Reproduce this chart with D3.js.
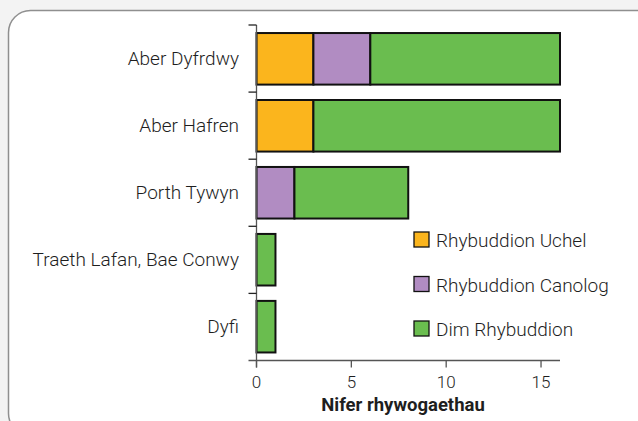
<!DOCTYPE html>
<html>
<head>
<meta charset="utf-8">
<script src="https://cdn.jsdelivr.net/npm/d3@7"></script>
<style>
body { margin: 0; background: #f3f3f3; }
svg { display: block; }
text { font-family: Roboto, "Liberation Sans", sans-serif; fill: #1e1e1e; }
</style>
</head>
<body>
<svg id="chart" width="638" height="421"></svg>
<script>
// data
var sites = ["Aber Dyfrdwy", "Aber Hafren", "Porth Tywyn", "Traeth Lafan, Bae Conwy", "Dyfi"];
var seriesNames = ["Rhybuddion Uchel", "Rhybuddion Canolog", "Dim Rhybuddion"];
var seriesColors = ["#fbb51d", "#b18cc2", "#6abd4f"];
var uchel   = [3, 3, 0, 0, 0];
var canolog = [3, 0, 2, 0, 0];
var dim     = [10, 13, 6, 1, 1];
var xTicks = [0, 5, 10, 15];
var xTitle = "Nifer rhywogaethau";

var svg = d3.select("#chart");

// frame
svg.append("rect")
	.attr("x", 8.5).attr("y", 10.5)
	.attr("width", 650).attr("height", 425)
	.attr("rx", 22)
	.attr("fill", "#fff")
	.attr("stroke", "#8f8f8f")
	.attr("stroke-width", 1.5);

var plotLeft = 256.5, plotRight = 560, plotTop = 25, plotBottom = 360.5;

var x = d3.scaleLinear().domain([0, 16]).range([plotLeft, plotRight]);
var y = d3.scaleBand().domain(sites).range([plotTop, plotBottom]).paddingInner(0.23).paddingOuter(0.12);

var rows = sites.map(function(s, i) {
	return { site: s, uchel: uchel[i], canolog: canolog[i], dim: dim[i] };
});
var stack = d3.stack().keys(["uchel", "canolog", "dim"])(rows);

var g = svg.append("g");

stack.forEach(function(layer, k) {
	g.selectAll(null)
		.data(layer.filter(function(d) { return d[1] > d[0]; }))
		.enter()
		.append("rect")
			.attr("x", d => x(d[0]))
			.attr("y", d => y(d.data.site))
			.attr("width", d => x(d[1]) - x(d[0]))
			.attr("height", y.bandwidth())
			.attr("fill", seriesColors[k])
			.attr("stroke", "#111")
			.attr("stroke-width", 2);
});

// y axis: line with ticks at band boundaries
var axisColor = "#555";
g.append("line")
	.attr("x1", plotLeft).attr("x2", plotLeft)
	.attr("y1", plotTop).attr("y2", plotBottom + 7)
	.attr("stroke", axisColor).attr("stroke-width", 1.3);

var step = (plotBottom - plotTop) / sites.length;
g.selectAll(null)
	.data(d3.range(sites.length))
	.enter()
	.append("line")
		.attr("x1", plotLeft - 8).attr("x2", plotLeft)
		.attr("y1", d => plotTop + d * step).attr("y2", d => plotTop + d * step)
		.attr("stroke", "#222").attr("stroke-width", 1.3);

g.selectAll(null)
	.data(sites)
	.enter()
	.append("text")
		.attr("x", 239)
		.attr("y", d => y(d) + y.bandwidth() / 2)
		.attr("dy", "0.35em")
		.attr("text-anchor", "end")
		.attr("font-size", 19)
		.attr("font-weight", 300)
		.text(d => d);

// x axis
g.append("line")
	.attr("x1", plotLeft - 8).attr("x2", plotRight)
	.attr("y1", plotBottom).attr("y2", plotBottom)
	.attr("stroke", axisColor).attr("stroke-width", 1.3);

g.selectAll(null)
	.data(xTicks)
	.enter()
	.append("line")
		.attr("x1", d => x(d)).attr("x2", d => x(d))
		.attr("y1", plotBottom).attr("y2", plotBottom + 7)
		.attr("stroke", axisColor).attr("stroke-width", 1.3);

g.selectAll(null)
	.data(xTicks)
	.enter()
	.append("text")
		.attr("x", d => x(d))
		.attr("y", 387.5)
		.attr("text-anchor", "middle")
		.attr("font-size", 17)
		.attr("font-weight", 300)
		.text(d => d);

g.append("text")
	.attr("x", 403)
	.attr("y", 411)
	.attr("text-anchor", "middle")
	.attr("font-size", 18.5)
	.attr("font-weight", "bold")
	.text(xTitle);

// legend
var legend = g.selectAll(null)
	.data(seriesNames)
	.enter()
	.append("g")
		.attr("transform", (d, i) => "translate(414," + (232 + i * 44.5) + ")");

legend.append("rect")
	.attr("width", 15).attr("height", 15)
	.attr("fill", (d, i) => seriesColors[i])
	.attr("stroke", "#111").attr("stroke-width", 1.3);

legend.append("text")
	.attr("x", 22).attr("y", 8.5)
	.attr("dy", "0.35em")
	.attr("font-size", 19)
	.attr("font-weight", 300)
	.text(d => d);
</script>
</body>
</html>
